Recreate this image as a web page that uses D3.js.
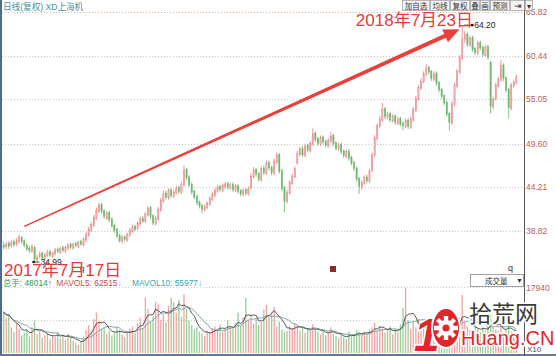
<!DOCTYPE html>
<html>
<head>
<meta charset="utf-8">
<script src="https://cdn.jsdelivr.net/npm/d3@7/dist/d3.min.js"></script>
<style>
body { margin: 0; background: #fff; }
svg { display: block; font-family: "Liberation Sans", "Noto Sans CJK SC", sans-serif; }
</style>
</head>
<body>
<svg id="chart" width="556" height="356"></svg>
<script>
//daily candles (price, qfq adjusted)
var opens = [
    37.1, 36.9, 37.3, 37.0, 37.5, 37.2, 37.5, 38.0, 37.6, 37.1,
    36.7, 36.3, 36.8, 35.2, 35.7, 36.1, 35.4, 35.8, 36.3, 35.7,
    36.0, 36.6, 36.2, 36.8, 36.3, 36.7, 37.2, 36.7, 37.3, 36.9,
    37.5, 37.1, 37.7, 38.3, 38.9, 39.5, 40.4, 41.2, 42.1, 41.3,
    40.4, 41.1, 40.3, 39.5, 39.0, 38.3, 37.5, 38.1, 37.7, 38.3,
    38.8, 39.4, 39.1, 39.7, 40.4, 40.0, 40.8, 41.7, 40.7, 39.7,
    40.3, 41.4, 42.5, 43.5, 42.9, 43.9, 43.1, 43.5, 44.2, 43.6,
    44.5, 46.4, 45.5, 44.6, 43.7, 43.1, 42.4, 42.0, 41.4, 41.7,
    42.1, 42.7, 43.2, 43.7, 44.3, 43.8, 44.3, 44.7, 44.1, 44.6,
    43.8, 44.4, 43.8, 43.3, 43.9, 43.4, 44.1, 45.5, 46.4, 45.9,
    45.1, 46.6, 45.9, 47.3, 46.7, 45.9, 47.3, 48.3, 46.3, 44.2,
    42.4, 43.5, 44.7, 45.5, 47.2, 48.2, 49.0, 48.1, 49.4, 48.7,
    49.5, 50.9, 50.2, 49.5, 50.4, 49.9, 49.3, 49.9, 50.6, 49.7,
    48.9, 49.5, 48.7, 48.0, 48.7, 47.9, 47.3, 46.6, 45.3, 44.2,
    44.7, 45.5, 44.9, 46.3, 48.1, 50.2, 51.7, 52.5, 53.9, 52.8,
    53.3, 52.4, 53.0, 52.1, 52.7, 52.1, 51.7, 52.5, 51.6, 52.5,
    53.7, 55.1, 56.4, 57.2, 58.1, 59.0, 58.5, 57.5, 58.3, 57.1,
    56.3, 55.5, 54.7, 53.3, 52.1, 54.4, 56.7, 58.4, 60.1, 62.4,
    63.1, 61.7, 62.7, 61.3, 60.7, 62.1, 61.5, 60.5, 61.6, 59.6,
    54.1, 55.1, 56.7, 57.4, 59.3, 57.7, 56.3, 53.9, 56.7, 57.1
];
var highs = [
    37.5, 37.5, 37.6, 37.7, 37.8, 37.9, 38.4, 38.2, 37.8, 37.3,
    37.0, 37.2, 37.0, 35.9, 36.3, 36.3, 36.1, 36.5, 36.5, 36.3,
    36.7, 36.8, 36.9, 37.0, 37.0, 37.3, 37.4, 37.4, 37.5, 37.6,
    37.7, 38.0, 38.7, 39.3, 39.9, 40.8, 41.7, 42.3, 42.3, 41.5,
    41.3, 41.3, 40.5, 39.7, 39.2, 38.5, 38.3, 38.3, 38.6, 39.2,
    39.6, 39.6, 40.0, 40.6, 40.7, 41.2, 41.9, 41.9, 40.9, 40.7,
    41.8, 42.9, 43.8, 43.8, 44.1, 44.1, 43.9, 44.4, 44.4, 44.9,
    46.9, 46.6, 45.7, 44.8, 43.9, 43.3, 42.6, 42.2, 42.1, 42.5,
    43.1, 43.6, 44.1, 44.5, 44.5, 44.7, 44.9, 44.9, 44.8, 44.8,
    44.6, 44.6, 44.0, 44.1, 44.1, 44.3, 45.9, 46.7, 46.6, 46.1,
    46.8, 46.9, 47.5, 47.5, 46.9, 47.7, 48.5, 48.4, 46.5, 44.4,
    43.9, 45.1, 45.9, 46.8, 48.7, 49.2, 49.3, 49.6, 49.6, 49.9,
    51.5, 51.1, 50.4, 50.6, 50.6, 50.1, 50.3, 51.0, 50.8, 49.9,
    49.7, 49.7, 48.9, 48.9, 48.9, 48.1, 47.5, 46.8, 45.5, 45.1,
    45.7, 45.8, 46.5, 48.5, 50.6, 52.1, 53.0, 54.6, 54.1, 53.5,
    53.5, 53.2, 53.2, 52.9, 52.9, 52.3, 52.7, 52.7, 52.9, 54.1,
    55.5, 56.8, 57.6, 58.5, 59.4, 59.2, 58.7, 58.5, 58.5, 57.3,
    56.5, 55.7, 54.9, 53.5, 54.8, 57.1, 58.8, 60.5, 64.2, 63.5,
    63.3, 62.9, 62.9, 61.5, 62.3, 62.3, 61.7, 61.8, 61.8, 59.8,
    55.4, 57.1, 57.8, 59.9, 59.5, 57.9, 56.5, 57.1, 57.5, 58.1
];
var lows = [
    36.5, 36.6, 36.6, 36.8, 36.9, 37.0, 37.3, 37.2, 36.8, 36.3,
    36.1, 36.1, 34.99, 35.0, 35.4, 35.3, 35.2, 35.6, 35.6, 35.5,
    35.8, 36.1, 36.0, 36.2, 36.1, 36.5, 36.6, 36.5, 36.8, 36.7,
    37.0, 36.9, 37.5, 38.1, 38.7, 39.3, 40.2, 41.0, 40.9, 40.3,
    40.2, 39.9, 39.2, 38.6, 37.9, 37.4, 37.3, 37.5, 37.5, 38.1,
    38.6, 38.8, 38.9, 39.5, 39.8, 39.8, 40.6, 40.3, 39.5, 39.5,
    40.1, 41.2, 42.3, 42.7, 42.7, 42.9, 42.9, 43.3, 43.4, 43.4,
    44.3, 45.1, 44.2, 43.3, 42.7, 42.0, 41.6, 41.0, 41.2, 41.5,
    41.9, 42.5, 43.0, 43.5, 43.6, 43.6, 44.0, 43.9, 43.9, 43.6,
    43.6, 43.4, 43.1, 43.1, 43.2, 43.2, 43.9, 45.3, 45.5, 44.9,
    44.9, 45.7, 45.7, 46.3, 45.7, 45.7, 47.1, 45.9, 43.7, 41.1,
    42.2, 43.3, 44.5, 45.3, 47.0, 48.0, 47.9, 47.9, 48.5, 48.5,
    49.3, 49.8, 49.3, 49.3, 49.5, 49.1, 49.1, 49.7, 49.3, 48.7,
    48.7, 48.3, 47.8, 47.8, 47.5, 46.9, 46.2, 44.9, 43.4, 43.9,
    44.5, 44.7, 44.7, 46.1, 47.9, 50.0, 51.5, 52.3, 52.6, 52.6,
    52.2, 52.2, 51.9, 51.9, 51.7, 51.2, 51.5, 51.4, 51.4, 52.3,
    53.5, 54.9, 56.2, 57.0, 57.9, 58.1, 57.3, 57.3, 56.7, 55.9,
    55.1, 54.3, 52.9, 51.2, 51.9, 54.2, 56.5, 58.2, 59.9, 62.0,
    61.5, 61.5, 60.9, 60.5, 60.5, 61.1, 60.3, 60.3, 59.9, 53.3,
    53.8, 54.9, 56.5, 57.2, 57.3, 55.9, 52.7, 53.7, 56.5, 56.9
];
var closes = [
    36.8, 37.2, 36.9, 37.4, 37.1, 37.6, 38.0, 37.5, 37.0, 36.6,
    36.4, 36.9, 35.3, 35.6, 36.0, 35.5, 35.9, 36.2, 35.8, 36.1,
    36.5, 36.3, 36.7, 36.4, 36.8, 37.1, 36.8, 37.2, 37.0, 37.4,
    37.2, 37.8, 38.4, 39.0, 39.6, 40.5, 41.3, 42.0, 41.2, 40.6,
    41.0, 40.2, 39.4, 38.9, 38.2, 37.6, 38.0, 37.8, 38.4, 38.9,
    39.3, 39.0, 39.8, 40.3, 40.0, 40.9, 41.6, 40.6, 39.8, 40.4,
    41.5, 42.6, 43.4, 43.0, 43.8, 43.2, 43.6, 44.1, 43.7, 44.6,
    46.3, 45.4, 44.5, 43.6, 43.0, 42.3, 41.9, 41.5, 41.8, 42.2,
    42.8, 43.3, 43.8, 44.2, 43.9, 44.4, 44.6, 44.2, 44.5, 43.9,
    44.3, 43.7, 43.4, 43.8, 43.5, 44.0, 45.6, 46.3, 45.8, 45.2,
    46.5, 46.0, 47.2, 46.6, 46.0, 47.4, 48.2, 46.2, 44.0, 42.5,
    43.6, 44.8, 45.6, 46.5, 48.4, 48.9, 48.2, 49.3, 48.8, 49.6,
    50.8, 50.1, 49.6, 50.3, 49.8, 49.4, 50.0, 50.5, 49.6, 49.0,
    49.4, 48.6, 48.1, 48.6, 47.8, 47.2, 46.5, 45.2, 44.3, 44.8,
    45.4, 45.0, 46.2, 48.2, 50.3, 51.8, 52.6, 53.8, 52.9, 53.2,
    52.5, 52.9, 52.2, 52.6, 52.0, 51.8, 52.4, 51.7, 52.6, 53.8,
    55.2, 56.5, 57.3, 58.2, 58.9, 58.4, 57.6, 58.2, 57.0, 56.2,
    55.4, 54.6, 53.2, 52.2, 54.5, 56.8, 58.5, 60.2, 62.5, 63.0,
    61.8, 62.6, 61.2, 60.8, 62.0, 61.4, 60.6, 61.5, 60.2, 54.2,
    55.0, 56.8, 57.5, 59.2, 57.6, 56.2, 54.0, 56.8, 57.2, 57.8
];
//volume in hands
var volumes = [
    112000, 95000, 104000, 70000, 58000, 82000, 66000, 48000, 55000, 62000,
    45000, 70000, 88000, 52000, 60000, 42000, 48000, 55000, 38000, 50000,
    44000, 58000, 40000, 46000, 36000, 52000, 41000, 34000, 28000, 22000,
    30000, 45000, 62000, 75000, 58000, 92000, 110000, 84000, 66000, 70000,
    52000, 60000, 48000, 56000, 70000, 62000, 50000, 44000, 58000, 66000,
    72000, 55000, 80000, 96000, 68000, 150000, 120000, 85000, 100000, 140000,
    132000, 90000, 105000, 84000, 128000, 150000, 138000, 110000, 145000, 98000,
    160000, 120000, 88000, 75000, 64000, 70000, 58000, 52000, 46000, 60000,
    55000, 68000, 72000, 62000, 78000, 58000, 64000, 90000, 70000, 66000,
    82000, 110000, 74000, 96000, 150000, 88000, 102000, 80000, 92000, 76000,
    84000, 118000, 130000, 98000, 110000, 125000, 72000, 86000, 64000, 58000,
    60000, 72000, 68000, 80000, 74000, 62000, 70000, 55000, 66000, 60000,
    78000, 64000, 58000, 50000, 62000, 48000, 56000, 70000, 52000, 46000,
    40000, 52000, 44000, 38000, 58000, 46000, 50000, 62000, 55000, 48000,
    58000, 52000, 64000, 70000, 82000, 60000, 74000, 66000, 56000, 62000,
    72000, 50000, 64000, 58000, 78000, 122000, 177000, 90000, 66000, 84000,
    70000, 92000, 60000, 76000, 68000, 82000, 58000, 64000, 72000, 60000,
    66000, 78000, 70000, 62000, 74000, 90000, 68000, 96000, 158000, 84000,
    72000, 64000, 60000, 76000, 66000, 58000, 70000, 62000, 68000, 120000,
    72000, 64000, 60000, 78000, 56000, 62000, 84000, 58000, 52000, 48014
];
//axis ticks
var priceTicks = [65.82, 60.44, 55.05, 49.60, 44.21, 38.82];
var volTicks = [179400];
var toolButtons = ['加自选', '均线', '复权', '叠', '画', '预测', '⇥', '▾'];

(function () {
    var svg = d3.select('#chart'),
        n = closes.length,
        red = '#e67c7c',
        green = '#6cb86c',
        axisX = 524;

    //scales
    var x = d3.scaleBand().domain(d3.range(n)).range([3, 517]).paddingInner(0.5);
    var xc = function (i) { return x(i) + x.bandwidth() / 2; };
    var yP = d3.scaleLinear().domain([38.82, 65.82]).range([231, 12]);
    var yV = d3.scaleLinear().domain([0, 179400]).range([353, 287]);
    var isUp = function (i) { return closes[i] >= opens[i]; };

    //frame
    svg.append('rect').attr('x', 0).attr('y', 0).attr('width', 2).attr('height', 356).attr('fill', '#4d6b8c');
    svg.append('rect').attr('x', 0).attr('y', 354).attr('width', 556).attr('height', 2).attr('fill', '#5b7ba0');

    //price grid
    svg.append('g').selectAll('line').data(priceTicks).enter().append('line')
        .attr('x1', 2).attr('x2', axisX)
        .attr('y1', function (d) { return Math.round(yP(d)) + 0.5; })
        .attr('y2', function (d) { return Math.round(yP(d)) + 0.5; })
        .attr('stroke', function (d, i) { return i === 0 ? '#d9b98a' : '#c8c8c8'; })
        .attr('stroke-dasharray', '1,2');

    //volume grid
    svg.append('g').selectAll('line').data([287.5, 320.5]).enter().append('line')
        .attr('x1', 2).attr('x2', axisX).attr('y1', function (d) { return d; }).attr('y2', function (d) { return d; })
        .attr('stroke', '#d0d0d0').attr('stroke-dasharray', '1,2');

    //candles
    var candles = svg.append('g').selectAll('g').data(d3.range(n)).enter().append('g');
    candles.append('line')
        .attr('x1', xc).attr('x2', xc)
        .attr('y1', function (i) { return yP(highs[i]); })
        .attr('y2', function (i) { return yP(lows[i]); })
        .attr('stroke', function (i) { return isUp(i) ? red : green; })
        .attr('stroke-width', 0.8);
    candles.append('rect')
        .attr('x', function (i) { return x(i); })
        .attr('width', x.bandwidth())
        .attr('y', function (i) { return yP(Math.max(opens[i], closes[i])); })
        .attr('height', function (i) { return Math.max(0.8, Math.abs(yP(opens[i]) - yP(closes[i]))); })
        .attr('fill', function (i) { return isUp(i) ? '#f4b6b6' : green; })
        .attr('stroke', function (i) { return isUp(i) ? red : green; })
        .attr('stroke-width', 0.4);

    //volume bars
    svg.append('g').selectAll('rect').data(d3.range(n)).enter().append('rect')
        .attr('x', function (i) { return x(i); })
        .attr('width', x.bandwidth())
        .attr('y', function (i) { return yV(volumes[i]); })
        .attr('height', function (i) { return yV(0) - yV(volumes[i]); })
        .attr('fill', function (i) { return isUp(i) ? '#f0a2a2' : '#94cf94'; });

    //volume moving averages
    function movingAvg(k) {
        return volumes.map(function (v, i) {
            return d3.mean(volumes.slice(Math.max(0, i - k + 1), i + 1));
        });
    }
    var volLine = d3.line().x(function (d, i) { return xc(i); }).y(function (d) { return yV(d); });
    svg.append('path').attr('d', volLine(movingAvg(10))).attr('fill', 'none').attr('stroke', '#6f9fa6').attr('stroke-width', 0.9);
    svg.append('path').attr('d', volLine(movingAvg(5))).attr('fill', 'none').attr('stroke', '#444').attr('stroke-width', 0.9);

    //right axis
    svg.append('line').attr('x1', axisX + 0.5).attr('x2', axisX + 0.5).attr('y1', 0).attr('y2', 356).attr('stroke', '#555');
    svg.append('g').selectAll('text').data(priceTicks).enter().append('text')
        .attr('x', axisX + 2).attr('y', function (d) { return yP(d) + 3; })
        .attr('font-size', 8.5).attr('fill', '#c25a5a')
        .text(function (d) { return d.toFixed(2); });
    svg.append('g').selectAll('text').data(volTicks).enter().append('text')
        .attr('x', axisX + 2).attr('y', function (d) { return yV(d) + 4; })
        .attr('font-size', 8.5).attr('fill', '#c25a5a')
        .text(function (d) { return d / 10; });
    svg.append('text').attr('x', axisX + 3).attr('y', 352).attr('font-size', 8).attr('fill', '#3d4f6b').text('X10');

    //title
    svg.append('text').attr('x', 3).attr('y', 10).attr('font-size', 8.6).attr('fill', '#3f8fa5').text('日线(复权) XD上海机');

    //toolbar buttons
    var bx = 402;
    toolButtons.forEach(function (t) {
        var w = t.length > 1 ? t.length * 8 + 4 : (t === '▾' ? 8 : 10);
        if (t === '⇥') w = 15;
        svg.append('rect').attr('x', bx + 0.5).attr('y', 0.5).attr('width', w - 1).attr('height', 10)
            .attr('fill', '#f4f4f4').attr('stroke', '#9a9a9a').attr('stroke-width', 0.7);
        svg.append('text').attr('x', bx + w / 2).attr('y', 8.5).attr('text-anchor', 'middle')
            .attr('font-size', t === '⇥' ? 9 : 7.5).attr('fill', '#333').text(t);
        bx += w;
    });

    //volume header
    var vh = svg.append('text').attr('x', 3).attr('y', 285.5).attr('font-size', 8.4);
    vh.append('tspan').attr('fill', '#2f9a58').text('总手: 48014');
    vh.append('tspan').attr('fill', '#e03030').text('↑ ');
    vh.append('tspan').attr('fill', '#c45050').attr('dx', 2).text('MAVOL5: 62515');
    vh.append('tspan').attr('fill', '#3aa6b4').text('↓ ');
    vh.append('tspan').attr('fill', '#3aa6b4').attr('dx', 8).text('MAVOL10: 55977');
    vh.append('tspan').attr('fill', '#3aa6b4').text('↓');

    //volume selector
    svg.append('rect').attr('x', 470.5).attr('y', 274.5).attr('width', 53).attr('height', 12)
        .attr('fill', '#fff').attr('stroke', '#8a8a8a').attr('stroke-width', 0.8);
    svg.append('text').attr('x', 485).attr('y', 283.5).attr('font-size', 7.5).attr('fill', '#333').text('成交量');
    svg.append('text').attr('x', 516).attr('y', 283).attr('font-size', 7).attr('fill', '#333').text('▼');

    //small markers
    svg.append('text').attr('x', 508).attr('y', 271).attr('font-size', 9).attr('fill', '#333').text('q');
    svg.append('rect').attr('x', 330).attr('y', 266).attr('width', 6).attr('height', 6).attr('fill', '#8b2b2b');
    svg.append('text').attr('x', 80).attr('y', 271).attr('font-size', 8).attr('fill', '#333').text('q');

    //high / low labels
    var hiIdx = d3.maxIndex(highs), loIdx = d3.minIndex(lows);
    var hx = xc(hiIdx), hy = yP(highs[hiIdx]);
    svg.append('line').attr('x1', hx + 2).attr('x2', hx + 11).attr('y1', hy).attr('y2', hy).attr('stroke', '#222').attr('stroke-width', 0.8);
    svg.append('circle').attr('cx', hx + 10).attr('cy', hy).attr('r', 1.3).attr('fill', '#111');
    svg.append('text').attr('x', hx + 12).attr('y', hy + 3).attr('font-size', 8.5).attr('fill', '#222').text(highs[hiIdx].toFixed(2));
    var lx = xc(loIdx), ly = yP(lows[loIdx]);
    svg.append('line').attr('x1', lx - 1).attr('x2', lx + 5).attr('y1', ly).attr('y2', ly).attr('stroke', '#222').attr('stroke-width', 0.8);
    svg.append('circle').attr('cx', lx - 1).attr('cy', ly).attr('r', 1.3).attr('fill', '#111');

    //trend arrow from the low to the high
    var p0 = [xc(8), yP(39.4)], p1 = [xc(177), yP(63.7)];
    var dx = p1[0] - p0[0], dy = p1[1] - p0[1], len = Math.sqrt(dx * dx + dy * dy),
        ux = dx / len, uy = dy / len, nx = -uy, ny = ux,
        headLen = 16, headW = 7, w0 = 0.7, w1 = 2.1,
        bxA = p1[0] - ux * headLen, byA = p1[1] - uy * headLen;
    var pts = [
        [p0[0] + nx * w0, p0[1] + ny * w0],
        [bxA + nx * w1, byA + ny * w1],
        [bxA + nx * headW, byA + ny * headW],
        p1,
        [bxA - nx * headW, byA - ny * headW],
        [bxA - nx * w1, byA - ny * w1],
        [p0[0] - nx * w0, p0[1] - ny * w0]
    ];
    svg.append('path').attr('d', 'M' + pts.join('L') + 'Z').attr('fill', '#e8403a');

    svg.append('text').attr('x', lx + 6).attr('y', ly + 3).attr('font-size', 8.5).attr('fill', '#222').text(lows[loIdx].toFixed(2));

    //date annotations
    svg.append('text').attr('x', 473).attr('y', 26).attr('text-anchor', 'end')
        .attr('font-size', 17).attr('fill', '#e8393a').text('2018年7月23日');
    svg.append('text').attr('x', 4).attr('y', 276)
        .attr('font-size', 17).attr('fill', '#e8393a').text('2017年7月17日');

    //watermark logo
    var logo = svg.append('g');
    logo.append('text').attr('x', 414).attr('y', 351).attr('font-size', 46).attr('font-weight', 'bold')
        .attr('font-style', 'italic').attr('fill', '#e0262b')
        .attr('stroke', '#fff').attr('stroke-width', 3).attr('paint-order', 'stroke').text('1');
    logo.append('ellipse').attr('cx', 446).attr('cy', 328).attr('rx', 14).attr('ry', 20)
        .attr('fill', '#e0262b').attr('stroke', '#fff').attr('stroke-width', 2);
    var teeth = d3.range(8).map(function (k) { return k * 45; });
    logo.append('g').attr('transform', 'translate(446,328)').selectAll('rect').data(teeth).enter().append('rect')
        .attr('x', -2.2).attr('y', -12).attr('width', 4.4).attr('height', 5).attr('fill', '#fff')
        .attr('transform', function (d) { return 'rotate(' + d + ')'; });
    logo.append('circle').attr('cx', 446).attr('cy', 328).attr('r', 8).attr('fill', '#fff');
    logo.append('circle').attr('cx', 446).attr('cy', 328).attr('r', 3.5).attr('fill', '#e0262b');
    logo.append('text').attr('x', 469).attr('y', 322).attr('font-size', 23).attr('fill', '#3a3a3a')
        .attr('font-family', 'Noto Sans CJK SC')
        .attr('stroke', '#fff').attr('stroke-width', 3).attr('paint-order', 'stroke').text('拾荒网');
    logo.append('text').attr('x', 461).attr('y', 345).attr('font-size', 20).attr('fill', '#e0262b')
        .attr('stroke', '#fff').attr('stroke-width', 3).attr('paint-order', 'stroke').text('Huang.CN');
})();
</script>
</body>
</html>
